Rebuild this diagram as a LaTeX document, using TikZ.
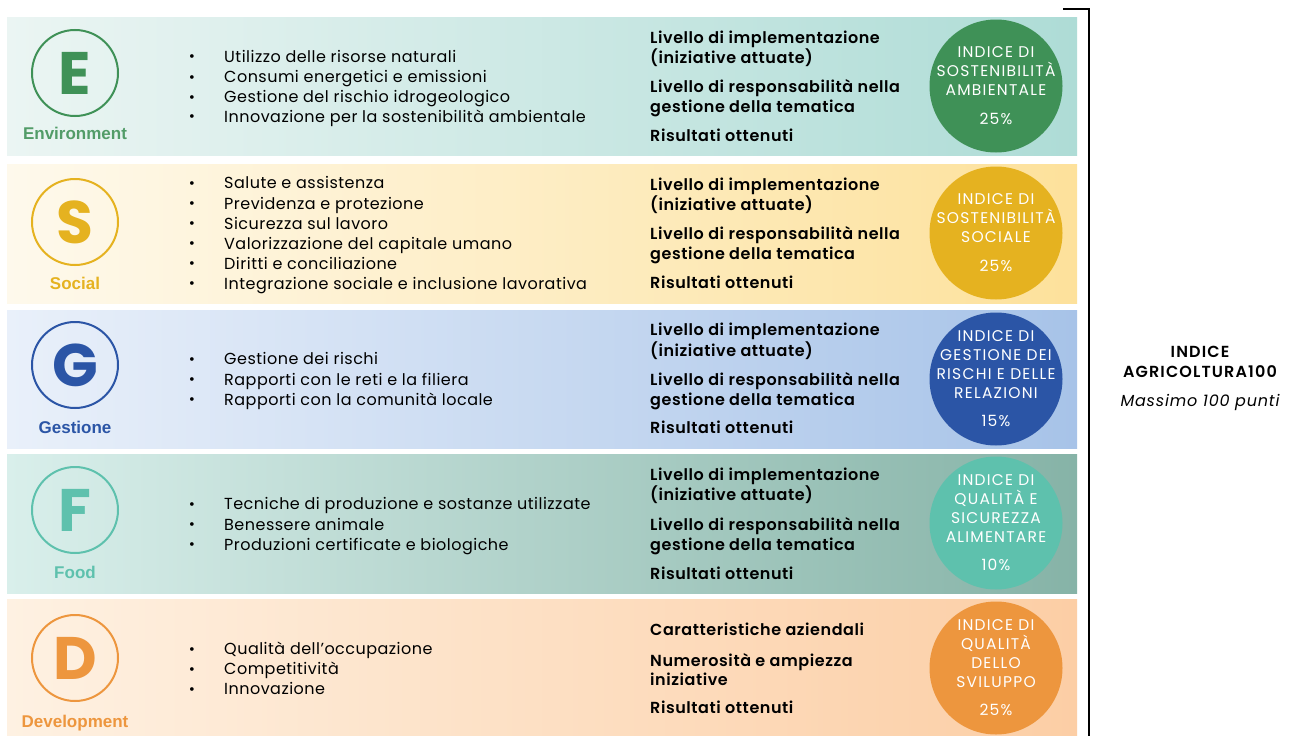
\documentclass[tikz,border=0pt]{standalone}
\usepackage{fontspec}
\setmainfont{Poppins}
\newfontfamily\labfont{Liberation Sans}
\newfontfamily\semib{Poppins SemiBold}
\definecolor{gE}{HTML}{3F9157}
\definecolor{gS}{HTML}{E5B220}
\definecolor{gG}{HTML}{2B55A6}
\definecolor{gF}{HTML}{5EC1AD}
\definecolor{gD}{HTML}{ED963E}
\definecolor{bEl}{HTML}{EBF5F3}
\definecolor{bEr}{HTML}{AEDCD6}
\definecolor{bSl}{HTML}{FEF9EC}
\definecolor{bSr}{HTML}{FDE19B}
\definecolor{bGl}{HTML}{E9F0FA}
\definecolor{bGr}{HTML}{A7C3E8}
\definecolor{bFl}{HTML}{D9EFEB}
\definecolor{bFr}{HTML}{86B3A7}
\definecolor{bDl}{HTML}{FEF1E2}
\definecolor{bDr}{HTML}{FCCEA5}
\begin{document}
\begin{tikzpicture}[x=1pt,y=-1pt,
  ring/.style={circle,line width=2pt,minimum size=86pt,inner sep=0pt,font=\fontsize{60}{60}\selectfont\bfseries},
  lab/.style={anchor=base,inner sep=0pt,font=\labfont\fontsize{17}{17}\selectfont\bfseries},
  bul/.style={anchor=mid west,inner sep=0pt,font=\fontsize{16}{18}\selectfont\addfontfeature{LetterSpace=3}},
  dot/.style={anchor=mid,inner sep=0pt,font=\fontsize{15}{18}\selectfont},
  crit/.style={anchor=mid west,inner sep=0pt,font=\semib\fontsize{16}{18}\selectfont\addfontfeature{LetterSpace=3.5}},
  idxc/.style={circle,minimum size=133pt,inner sep=0pt},
  idxt/.style={align=center,text=white,inner sep=0pt,font=\fontsize{15.5}{19}\selectfont\addfontfeature{LetterSpace=8}},
  tot/.style={anchor=mid,inner sep=0pt}
]
\useasboundingbox (0,0) rectangle (1294,736);
\fill[white] (0,0) rectangle (1294,736);
% row backgrounds
\foreach \tp/\bt/\cl/\cr in {17/155/bEl/bEr,164/303/bSl/bSr,310/448/bGl/bGr,454/593/bFl/bFr,599/737/bDl/bDr}
  \shade[left color=\cl,right color=\cr] (7,\tp) rectangle (1077,\bt);
% left circles and labels
\node[ring,draw=gE,text=gE] (cE) at (75,73) {E};
\node[ring,draw=gS,text=gS] (cS) at (75,222) {S};
\node[ring,draw=gG,text=gG] (cG) at (75,365) {G};
\node[ring,draw=gF,text=gF] (cF) at (75,510) {F};
\node[ring,draw=gD,text=gD] (cD) at (75,658) {D};
\node[lab,text=gE!90!white] (lE) at (75,139) {Environment};
\node[lab,text=gS] (lS) at (75,289) {Social};
\node[lab,text=gG] (lG) at (75,433) {Gestione};
\node[lab,text=gF] (lF) at (75,578) {Food};
\node[lab,text=gD] (lD) at (75,727) {Development};
% bullets
\foreach \y/\t [count=\i] in {56/Utilizzo delle risorse naturali,76.5/Consumi energetici e emissioni,96.5/Gestione del rischio idrogeologico,116/Innovazione per la sostenibilità ambientale,
  182.5/Salute e assistenza,203/Previdenza e protezione,223/Sicurezza sul lavoro,243/Valorizzazione del capitale umano,263/Diritti e conciliazione,283/Integrazione sociale e inclusione lavorativa,
  358.5/Gestione dei rischi,379/Rapporti con le reti e la filiera,399/Rapporti con la comunità locale,
  503.5/Tecniche di produzione e sostanze utilizzate,524/Benessere animale,544/Produzioni certificate e biologiche,
  648.5/Qualità dell’occupazione,668.5/Competitività,688.5/Innovazione}
{
  \node[dot] (d\i) at (192,\y+3) {\textbullet};
  \node[bul] (b\i) at (224,\y+3.5) {\t};
}
% criteria
\foreach \y/\t [count=\i] in {37/Livello di implementazione,57/(iniziative attuate),86/Livello di responsabilità nella,106/gestione della tematica,135/Risultati ottenuti,
  184/Livello di implementazione,204/(iniziative attuate),233/Livello di responsabilità nella,253/gestione della tematica,282/Risultati ottenuti,
  329.5/Livello di implementazione,350/(iniziative attuate),379/Livello di responsabilità nella,399/gestione della tematica,427.5/Risultati ottenuti,
  474/Livello di implementazione,494/(iniziative attuate),524/Livello di responsabilità nella,544/gestione della tematica,573/Risultati ottenuti,
  629.5/Caratteristiche aziendali,660/Numerosità e ampiezza,679.5/iniziative,707.5/Risultati ottenuti}
{
  \node[crit] (m\i) at (650,\y+3.5) {\t};
}
% index circles
\node[idxc,fill=gE] (iE) at (996,86) {};
\node[idxt] (tE) at (iE) {INDICE DI\\SOSTENIBILITÀ\\AMBIENTALE\\[10pt]25\%};
\node[idxc,fill=gS] (iS) at (996,233) {};
\node[idxt] (tS) at (iS) {INDICE DI\\SOSTENIBILITÀ\\SOCIALE\\[10pt]25\%};
\node[idxc,fill=gG] (iG) at (996,379) {};
\node[idxt] (tG) at (iG) {INDICE DI\\GESTIONE DEI\\RISCHI E DELLE\\RELAZIONI\\[9pt]15\%};
\node[idxc,fill=gF] (iF) at (996,523) {};
\node[idxt] (tF) at (iF) {INDICE DI\\QUALITÀ E\\SICUREZZA\\ALIMENTARE\\[9pt]10\%};
\node[idxc,fill=gD] (iD) at (996,668) {};
\node[idxt] (tD) at (iD) {INDICE DI\\QUALITÀ\\DELLO\\SVILUPPO\\[9pt]25\%};
% bracket
\coordinate (bA) at (1063,9);
\coordinate (bB) at (1089,9);
\coordinate (bC) at (1089,737);
\draw[line width=2pt] (bA) -- (bB) -- (bC);
% total
\node[tot,font=\semib\fontsize{16}{18}\selectfont\addfontfeature{LetterSpace=7}] (x1) at (1200,355) {INDICE};
\node[tot,font=\semib\fontsize{16}{18}\selectfont\addfontfeature{LetterSpace=7}] (x2) at (1200,375) {AGRICOLTURA100};
\node[tot,font=\fontsize{16}{18}\selectfont\itshape\addfontfeature{LetterSpace=5}] (x3) at (1200,404) {Massimo 100 punti};
\end{tikzpicture}
\end{document}
